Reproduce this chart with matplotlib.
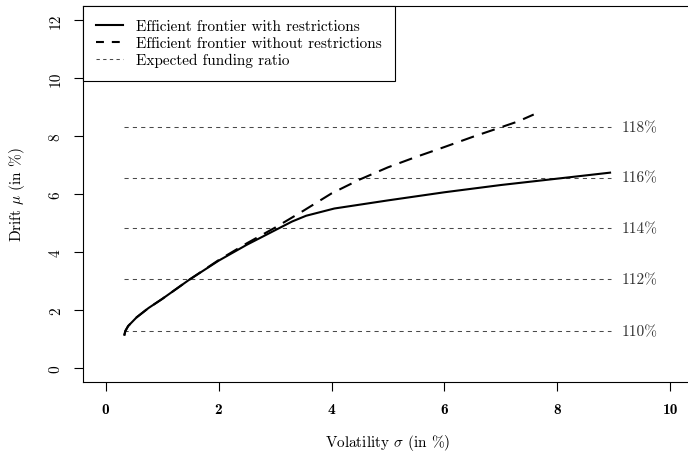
import matplotlib
matplotlib.use("Agg")
import matplotlib.pyplot as plt

plt.rcParams['font.family'] = 'cmr10'
plt.rcParams['mathtext.fontset'] = 'cm'
plt.rcParams['axes.unicode_minus'] = False
plt.rcParams['axes.formatter.use_mathtext'] = True

# efficient frontier with restrictions
sigma_restr = [0.33, 0.35, 0.40, 0.55, 0.76, 1.0, 1.47, 2.0, 2.5, 3.0, 3.3, 3.55,
               4.05, 5.0, 6.0, 7.0, 8.0, 8.95]
mu_restr = [1.12, 1.28, 1.45, 1.75, 2.07, 2.38, 3.03, 3.70, 4.25, 4.75, 5.05, 5.25,
            5.50, 5.78, 6.06, 6.31, 6.53, 6.74]

# efficient frontier without restrictions
sigma_unres = [0.33, 0.35, 0.40, 0.55, 0.76, 1.0, 1.47, 2.0, 2.5, 3.0, 3.5, 4.0,
               4.5, 5.0, 5.5, 6.0, 6.5, 7.0, 7.3, 7.58]
mu_unres = [1.12, 1.28, 1.45, 1.75, 2.07, 2.38, 3.03, 3.72, 4.30, 4.84, 5.42, 6.02,
            6.50, 6.92, 7.28, 7.62, 7.97, 8.30, 8.50, 8.74]

# expected funding ratio levels
funding_labels = ['110%', '112%', '114%', '116%', '118%']
funding_mu = [1.27, 3.07, 4.83, 6.56, 8.31]
funding_sigma = [0.32, 8.95]

xticks = [0, 2, 4, 6, 8, 10]
yticks = [0, 2, 4, 6, 8, 10, 12]

FS = 11
fig = plt.figure(figsize=(6.88, 4.52), dpi=100)
W, H = 688, 452
ax = fig.add_axes([83 / W, 1 - 383 / H, (693 - 83) / W, (383 - 7) / H])
ax.spines['right'].set_visible(False)  # sits outside the picture in the original

for m in funding_mu:
    ax.plot(funding_sigma, [m, m], color='#4a4a4a', lw=0.75,
            linestyle=(0, (4, 4)))
for m, lab in zip(funding_mu, funding_labels):
    ax.text(9.13, m, lab, fontsize=FS, ha='left', va='center', color='#333333')

ax.plot(sigma_unres, mu_unres, color='black', lw=1.5, linestyle=(0, (6.5, 4)))
ax.plot(sigma_restr, mu_restr, color='black', lw=1.5, solid_capstyle='butt')

# legend proxies
h1, = ax.plot([], [], color='black', lw=1.5)
h2, = ax.plot([], [], color='black', lw=1.5, linestyle=(0, (3.8, 3.8)))
h3, = ax.plot([], [], color='#4a4a4a', lw=0.75, linestyle=(0, (3.2, 3.2)))
leg = ax.legend([h1, h2, h3],
                ['Efficient frontier with restrictions',
                 'Efficient frontier without restrictions',
                 'Expected funding ratio'],
                loc='upper left', borderaxespad=0, fancybox=False,
                framealpha=1, edgecolor='black', fontsize=FS,
                handlelength=1.75, handletextpad=0.85, labelspacing=0.2,
                borderpad=0.88)
leg.get_frame().set_linewidth(0.8)

ax.set_xlim(-0.4, 10.4)
ax.set_ylim(-0.48, 12.48)
ax.set_xticks(xticks)
ax.set_yticks(yticks)
ax.set_xticklabels([str(t) for t in xticks], fontfamily='cmb10', fontsize=FS)
ax.set_yticklabels([str(t) for t in yticks], fontsize=FS, rotation=90, va='center')
ax.tick_params(direction='out', length=6.5, width=0.8, color='black')
ax.tick_params(axis='x', pad=8)
ax.tick_params(axis='y', pad=8)
for s in ax.spines.values():
    s.set_linewidth(0.8)

ax.set_xlabel(r'Volatility $\sigma$ (in %)', fontsize=FS)
ax.set_ylabel(r'Drift $\mu$ (in %)', fontsize=FS)
ax.xaxis.set_label_coords(0.5, -(433 - 383) / 376)
ax.yaxis.set_label_coords(-(83 - 27) / 610, 0.5)

fig.savefig('out.png', dpi=100)
